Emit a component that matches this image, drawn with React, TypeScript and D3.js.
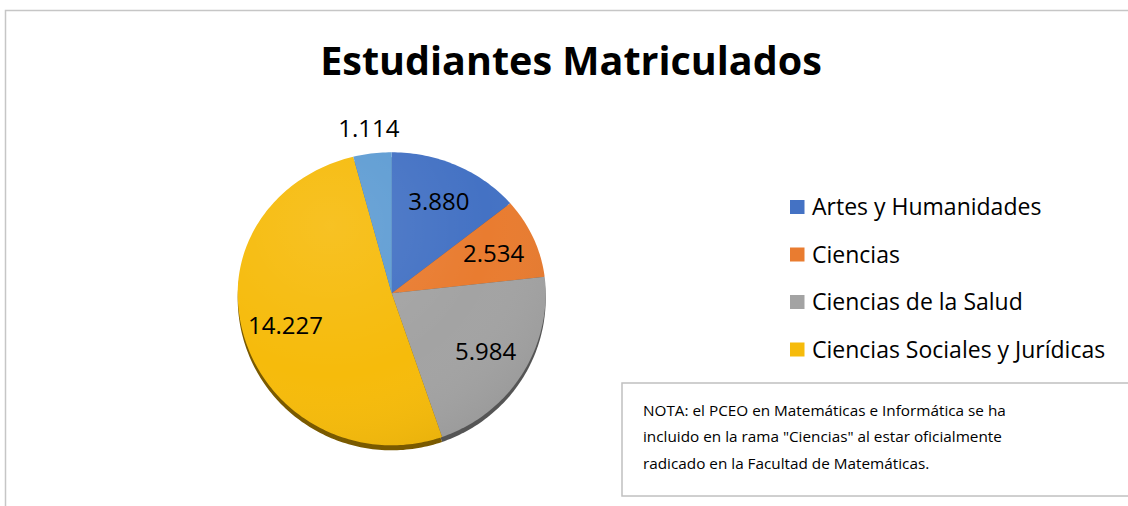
import React from 'react';
import * as d3 from 'd3';

// chart data
const categories = ['Artes y Humanidades', 'Ciencias', 'Ciencias de la Salud', 'Ciencias Sociales y Jurídicas', 'Otros'];
const values = [3880, 2534, 5984, 14227, 1114];
const legendItems = ['Artes y Humanidades', 'Ciencias', 'Ciencias de la Salud', 'Ciencias Sociales y Jurídicas'];
const noteLines = [
  'NOTA: el PCEO en Matemáticas e Informática se ha',
  'incluido en la rama "Ciencias" al estar oficialmente',
  'radicado en la Facultad de Matemáticas.',
];

const W = 1128;
const H = 506;
const CX = 391.7;
const CY = 293.3;
const RX = 154;
const RY_TOP = 141;
const RY_BOT = 152;
const FONT = '"Open Sans", sans-serif';

const colors = d3.scaleOrdinal<string, string>()
  .domain(categories)
  .range(['#4472C4', '#E97C30', '#A3A3A3', '#F6BB0B', '#5E9CD3']);

const shadeColors = d3.scaleOrdinal<string, string>()
  .domain(categories)
  .range(['#2c4d87', '#8f4b1a', '#555555', '#7a5a00', '#3a6690']);

const fmt = (v: number) => d3.format(',')(v).replace(/,/g, '.');

// angle (0 = top, clockwise) + radius factor -> point on the tilted pie
const project = (a: number, f: number): [number, number] => {
  const x = Math.sin(a);
  const y = -Math.cos(a);
  return [CX + RX * f * x, CY + (y < 0 ? RY_TOP : RY_BOT) * f * y];
};

const line = d3.line<[number, number]>();

function slicePath(a0: number, a1: number, dy = 0) {
  const steps = Math.max(4, Math.ceil((a1 - a0) / 0.02));
  const pts: [number, number][] = [[CX, CY + dy]];
  for (let i = 0; i <= steps; i++) {
    const [x, y] = project(a0 + ((a1 - a0) * i) / steps, 1);
    pts.push([x, y + dy]);
  }
  return line(pts) + 'Z';
}

export default function App() {
  const pie = d3.pie<number>().sort(null).value(d => d)(values);
  const total = d3.sum(values);

  return (
    <svg width={W} height={H} style={{ display: 'block', position: 'absolute', left: 0, top: 0 }} xmlns="http://www.w3.org/2000/svg">
      <defs>
        <radialGradient id="shine" cx="30%" cy="25%" r="85%">
          <stop offset="0%" stopColor="#fff" stopOpacity={0.1} />
          <stop offset="60%" stopColor="#fff" stopOpacity={0} />
          <stop offset="100%" stopColor="#000" stopOpacity={0.06} />
        </radialGradient>
      </defs>
      <rect x={0} y={0} width={W} height={H} fill="#fff" />
      {/* chart frame */}
      <path d={`M5.5,${H} V10.5 H${W}`} fill="none" stroke="#c6c6c6" strokeWidth={1.5} />

      <text x={571} y={75} textAnchor="middle" fontFamily={FONT} fontWeight="bold" fontSize={39.5} fill="#000">
        Estudiantes Matriculados
      </text>

      {/* 3d edge */}
      <g>
        {pie.map((d, i) => (
          <path key={`s-${i}`} d={slicePath(d.startAngle, d.endAngle, 5)} fill={shadeColors(categories[i])} />
        ))}
      </g>
      <g>
        {pie.map((d, i) => (
          <path key={`p-${i}`} d={slicePath(d.startAngle, d.endAngle)} fill={colors(categories[i])} />
        ))}
        <path d={slicePath(0, Math.PI * 2)} fill="url(#shine)" />
      </g>

      {pie.map((d, i) => {
        const mid = (d.startAngle + d.endAngle) / 2;
        const outside = values[i] / total < 0.05;
        const [x, y] = project(mid, outside ? 1.18 : 0.72);
        return (
          <text key={`l-${i}`} x={x} y={y} dy="0.36em" textAnchor="middle" fontFamily={FONT} fontSize={24} fill="#000">
            {fmt(values[i])}
          </text>
        );
      })}

      {/* legend */}
      {legendItems.map((name, i) => (
        <g key={`lg-${i}`} transform={`translate(790,${200 + i * 47.5})`}>
          <rect width={14.5} height={14} fill={colors(name)} />
          <text x={22} y={7} dy="0.36em" fontFamily={FONT} fontSize={23} fill="#000">{name}</text>
        </g>
      ))}

      {/* note box */}
      <rect x={622} y={383} width={W} height={113} fill="#fff" stroke="#c0c0c0" strokeWidth={1.5} />
      {noteLines.map((t, i) => (
        <text key={`n-${i}`} x={643} y={415.5 + i * 26.5} fontFamily={FONT} fontSize={15.3} fill="#000">{t}</text>
      ))}
    </svg>
  );
}
